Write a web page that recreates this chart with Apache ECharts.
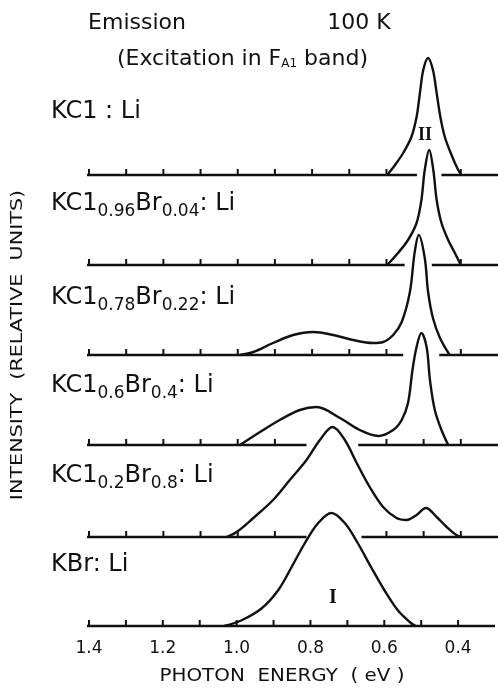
<!DOCTYPE html>
<html>
<head>
	<meta charset="UTF-8">
	<script type="text/javascript" src="https://cdn.jsdelivr.net/npm/echarts@6/dist/echarts.min.js"></script>
	<title></title>
	<style type="text/css">
		html, body{
			margin:0;
			padding:0;
			background:#fff;
		}
		#emission_box{
			width:498px;
			height:691px;
		}
	</style>
</head>
<body>
<div id="emission_box"></div>
<script type="text/javascript">
// photon energy ticks (eV) and the labelled ones
var energyTicks = [1.4, 1.3, 1.2, 1.1, 1.0, 0.9, 0.8, 0.7, 0.6, 0.5, 0.4];
var tickLabels = ['1.4', '1.2', '1.0', '0.8', '0.6', '0.4'];

// emission spectra [energy, intensity], relative units
var kclLi = [[0.598,0],[0.577,10],[0.555,22],[0.533,38],[0.519,58],[0.510,82],[0.501,105],[0.488,117],[0.475,105],[0.465,82],[0.455,58],[0.443,38],[0.425,20],[0.407,5],[0.398,0]];
var kcl096 = [[0.598,0],[0.569,12],[0.542,25],[0.519,42],[0.506,65],[0.497,95],[0.485,115],[0.474,95],[0.465,65],[0.452,42],[0.434,25],[0.416,12],[0.400,0]];
var kcl078 = [[0.994,0],[0.958,3],[0.905,12],[0.851,20],[0.797,23],[0.743,20],[0.690,15],[0.636,12],[0.609,13],[0.582,20],[0.559,33],[0.537,63],[0.524,103],[0.513,120],[0.497,97],[0.488,63],[0.475,37],[0.456,17],[0.430,0]];
var kcl06 = [[0.994,0],[0.940,13],[0.887,25],[0.833,35],[0.788,38],[0.725,27],[0.672,15],[0.622,9],[0.582,15],[0.559,25],[0.542,42],[0.530,75],[0.519,98],[0.506,112],[0.492,98],[0.483,65],[0.470,35],[0.452,15],[0.434,0]];
var kcl02 = [[1.030,0],[1.003,5],[0.958,19],[0.905,37],[0.860,57],[0.815,77],[0.779,97],[0.745,110],[0.712,97],[0.680,74],[0.645,50],[0.609,30],[0.573,19],[0.546,17],[0.519,22],[0.494,29],[0.465,20],[0.438,10],[0.412,2],[0.398,0]];
var kbrLi = [[1.034,0],[0.985,6],[0.931,18],[0.887,36],[0.851,59],[0.815,83],[0.779,103],[0.743,113],[0.707,103],[0.672,83],[0.636,59],[0.600,36],[0.564,16],[0.528,3],[0.515,0]];

// sample names (rich text, s = subscript)
var sampleNames = [
	'{m|KC1 : Li}',
	'{m|KC1}{s|0.96}{m|Br}{s|0.04}{m|: Li}',
	'{m|KC1}{s|0.78}{m|Br}{s|0.22}{m|: Li}',
	'{m|KC1}{s|0.6}{m|Br}{s|0.4}{m|: Li}',
	'{m|KC1}{s|0.2}{m|Br}{s|0.8}{m|: Li}',
	'{m|KBr: Li}'
];

// where each baseline is broken by the curve below it [from, to] eV
var baseGaps = [[0.518, 0.452], [0.551, 0.478], [0.555, 0.458], [0.815, 0.676], [0.815, 0.667], null];

var curves = [kclLi, kcl096, kcl078, kcl06, kcl02, kbrLi];
var baseY = [175, 265, 355, 445, 537, 626];
var labelY = [110, 202, 296, 384, 474, 563];
var ink = '#111';
var fam = '"DejaVu Sans", sans-serif';

var grids = [], xAxes = [], yAxes = [], series = [], titles = [];

for (var i = 0; i < curves.length; i++) {
	grids.push({left: 89, right: 0, top: baseY[i] - 90, height: 90});
	xAxes.push({
		type: 'value', gridIndex: i, inverse: true,
		min: 0.3, max: 1.4, interval: 0.1,
		axisLine: {show: false}, axisTick: {show: false}, splitLine: {show: false},
		axisLabel: {
			show: i === curves.length - 1,
			margin: 14,
			color: ink, fontSize: 17, fontFamily: fam,
			formatter: function (v) {
				var s = v.toFixed(1);
				return tickLabels.indexOf(s) >= 0 ? s : '';
			}
		}
	});
	yAxes.push({type: 'value', gridIndex: i, min: 0, max: 90, show: false});

	// baseline pieces
	var gap = baseGaps[i];
	var pieces = gap ? [[1.5, gap[0]], [gap[1], 0.3]] : [[1.5, 0.3]];
	pieces.forEach(function (p) {
		series.push({
			type: 'line', xAxisIndex: i, yAxisIndex: i,
			data: [[p[0], 0], [p[1], 0]],
			symbol: 'none', clip: false, silent: true,
			lineStyle: {color: ink, width: 2.5}
		});
	});

	// tick marks, skipped where the baseline is broken
	var tks = energyTicks.filter(function (v) {
		return !gap || v > gap[0] || v < gap[1];
	}).map(function (v) { return [v, 0]; });
	series.push({
		type: 'custom', xAxisIndex: i, yAxisIndex: i, silent: true,
		data: tks,
		renderItem: function (params, api) {
			var p = api.coord([api.value(0), 0]);
			return {
				type: 'line',
				shape: {x1: p[0], y1: p[1], x2: p[0], y2: p[1] - 6},
				style: {stroke: ink, lineWidth: 2}
			};
		}
	});

	// spectrum
	series.push({
		type: 'line', xAxisIndex: i, yAxisIndex: i,
		data: curves[i],
		smooth: 0.35,
		symbol: 'none', clip: false, silent: true,
		lineStyle: {color: ink, width: 2.4}
	});

	titles.push({
		text: sampleNames[i], left: 51, top: labelY[i] - 10.5, padding: 0,
		textStyle: {
			fontWeight: 'normal',
			rich: {
				m: {fontSize: 24, fontFamily: fam, fontWeight: 'normal', color: ink, lineHeight: 24, verticalAlign: 'top'},
				s: {fontSize: 17, fontFamily: fam, fontWeight: 'normal', color: ink, lineHeight: 29, verticalAlign: 'bottom'}
			}
		}
	});
}

titles.push({
	text: '{m|(Excitation in F}{s|A1}{m| band)}', left: 117, top: 48, padding: 0,
	textStyle: {
		fontWeight: 'normal',
		rich: {
			m: {fontSize: 22, fontFamily: fam, fontWeight: 'normal', color: ink, lineHeight: 22, verticalAlign: 'top'},
			s: {fontSize: 12, fontFamily: fam, fontWeight: 'normal', color: ink, lineHeight: 20, verticalAlign: 'bottom'}
		}
	}
});

function txt(str, x, y, size, family, extra) {
	var el = {
		type: 'text', x: x, y: y, silent: true,
		style: {
			text: str, fill: ink, fontSize: size, fontFamily: family,
			align: 'center', verticalAlign: 'middle',
			textAlign: 'center', textVerticalAlign: 'middle'
		}
	};
	for (var k in extra) {
		if (k === 'fontWeight') el.style.fontWeight = extra[k];
		else el[k] = extra[k];
	}
	return el;
}

var chart = echarts.init(document.getElementById('emission_box'));
chart.setOption({
	animation: false,
	backgroundColor: '#fff',
	title: titles,
	grid: grids,
	xAxis: xAxes,
	yAxis: yAxes,
	series: series,
	graphic: [
		txt('Emission', 137, 23, 22, fam),
		txt('100 K', 359, 23, 22, fam),
		txt('II', 425, 135, 18, '"Liberation Serif", serif', {fontWeight: 'bold'}),
		txt('I', 333, 598, 20, '"Liberation Serif", serif', {fontWeight: 'bold'}),
		txt('INTENSITY  (RELATIVE  UNITS)', 18, 345, 15, fam, {rotation: Math.PI / 2, scaleX: 1.38}),
		txt('PHOTON  ENERGY  ( eV )', 282, 677, 17, fam, {scaleX: 1.17})
	]
});
</script>
</body>
</html>
